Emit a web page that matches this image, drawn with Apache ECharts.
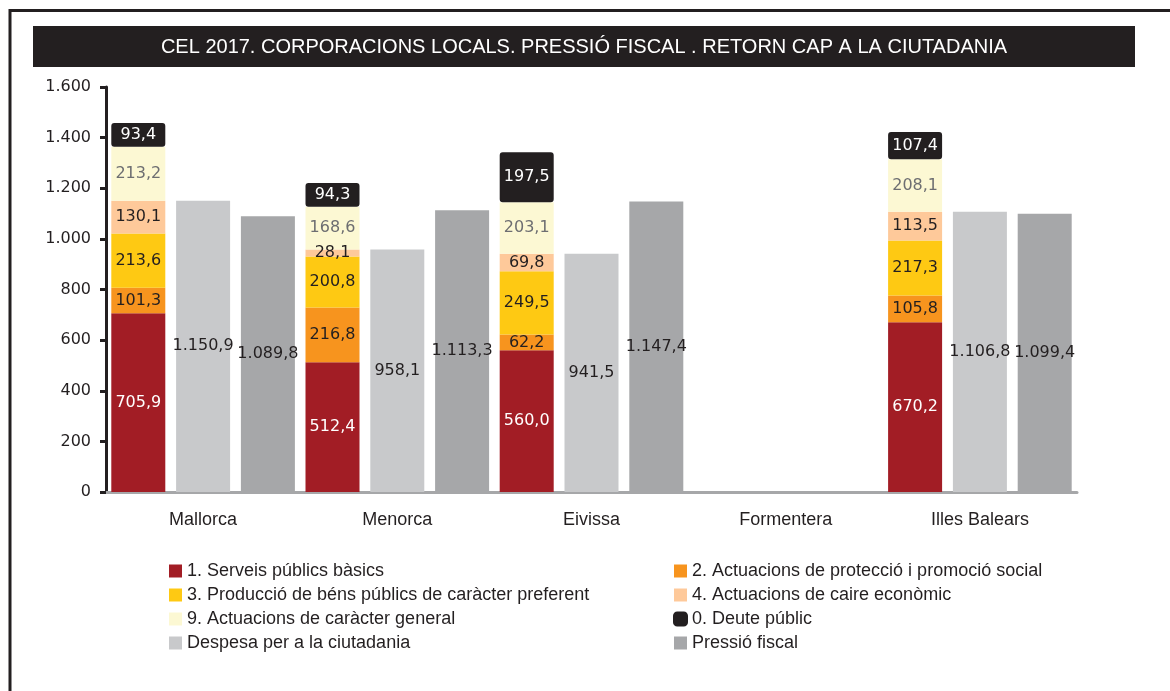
<!DOCTYPE html>
<html>
<head>
<meta charset="utf-8">
<script src="https://cdn.jsdelivr.net/npm/echarts@6/dist/echarts.min.js"></script>
<style>
  html, body { margin: 0; padding: 0; background: #fff; }
  #chart { width: 1170px; height: 691px; }
</style>
</head>
<body>
<div id="chart"></div>
<script>
const categories = ['Mallorca', 'Menorca', 'Eivissa', 'Formentera', 'Illes Balears']

// despesa per grups de programes (stack)
const serveisBasics = [705.9, 512.4, 560.0, null, 670.2]
const proteccioSocial = [101.3, 216.8, 62.2, null, 105.8]
const bensPreferents = [213.6, 200.8, 249.5, null, 217.3]
const caireEconomic = [130.1, 28.1, 69.8, null, 113.5]
const caracterGeneral = [213.2, 168.6, 203.1, null, 208.1]
const deutePublic = [93.4, 94.3, 197.5, null, 107.4]

const despesaCiutadania = [1150.9, 958.1, 941.5, null, 1106.8]
const pressioFiscal = [1089.8, 1113.3, 1147.4, null, 1099.4]

const yTicks = { min: 0, max: 1600, interval: 200 }

const fmt = (v) => {
  const parts = Number(v).toFixed(1).split('.')
  return parts[0].replace(/\B(?=(\d{3})+(?!\d))/g, '.') + ',' + parts[1]
}

const labelFont = 'DejaVu Sans'
const textFont = 'Liberation Sans'

const barLabel = (color) => ({
  show: true,
  position: 'inside',
  color,
  fontFamily: labelFont,
  fontSize: 16,
  formatter: (p) => fmt(p.value),
})

const stackSeries = (name, data, color, labelColor, extra) => Object.assign({
  name,
  type: 'bar',
  stack: 'despesa',
  barWidth: 54,
  barGap: '20%',
  data,
  itemStyle: { color },
  label: barLabel(labelColor),
}, extra || {})

const chart = echarts.init(document.getElementById('chart'))

const legendText = { color: '#231f20', fontFamily: textFont, fontSize: 18 }

const option = {
  animation: false,
  grid: { left: 106, right: 93, top: 87, bottom: 199 },
  graphic: [
    {
      type: 'rect',
      z: -1,
      shape: { x: 10, y: 10.5, width: 1200, height: 800 },
      style: { fill: 'none', stroke: '#231f20', lineWidth: 3 },
    },
    {
      type: 'rect',
      shape: { x: 33, y: 26, width: 1102, height: 41 },
      style: { fill: '#231f20' },
    },
    {
      type: 'text',
      x: 584,
      y: 47,
      style: {
        text: 'CEL 2017. CORPORACIONS LOCALS. PRESSIÓ FISCAL . RETORN CAP A LA CIUTADANIA',
        fill: '#fff',
        font: '20px "Liberation Sans"',
        align: 'center',
        verticalAlign: 'middle',
      },
    },
  ],
  legend: [
    {
      orient: 'vertical',
      left: 164,
      top: 557,
      itemWidth: 13,
      itemHeight: 13,
      itemGap: 6,
      textStyle: legendText,
      data: [
        { name: '1. Serveis públics bàsics', icon: 'rect' },
        { name: '3. Producció de béns públics de caràcter preferent', icon: 'rect' },
        { name: '9. Actuacions de caràcter general', icon: 'rect' },
        { name: 'Despesa per a la ciutadania', icon: 'rect' },
      ],
    },
    {
      orient: 'vertical',
      left: 668,
      top: 557,
      itemWidth: 13,
      itemHeight: 13,
      itemGap: 6,
      textStyle: legendText,
      data: [
        { name: '2. Actuacions de protecció i promoció social', icon: 'rect' },
        { name: '4. Actuacions de caire econòmic', icon: 'rect' },
        { name: '0. Deute públic', icon: 'roundRect' },
        { name: 'Pressió fiscal', icon: 'rect' },
      ],
    },
  ],
  xAxis: {
    type: 'category',
    data: categories,
    axisLine: { lineStyle: { color: '#a6a7a9', width: 3 } },
    axisTick: { show: false },
    axisLabel: { color: '#231f20', fontFamily: textFont, fontSize: 18, margin: 19 },
  },
  yAxis: {
    type: 'value',
    min: yTicks.min,
    max: yTicks.max,
    interval: yTicks.interval,
    axisLine: { show: true, lineStyle: { color: '#231f20', width: 3 } },
    axisTick: { show: true, length: 6, lineStyle: { color: '#231f20', width: 3 } },
    splitLine: { show: false },
    axisLabel: {
      color: '#231f20',
      fontFamily: labelFont,
      fontSize: 16,
      margin: 15,
      formatter: (v) => String(v).replace(/\B(?=(\d{3})+(?!\d))/g, '.'),
    },
  },
  series: [
    stackSeries('1. Serveis públics bàsics', serveisBasics, '#a21d25', '#fff'),
    stackSeries('2. Actuacions de protecció i promoció social', proteccioSocial, '#f7941e', '#231f20'),
    stackSeries('3. Producció de béns públics de caràcter preferent', bensPreferents, '#fec913', '#231f20'),
    stackSeries('4. Actuacions de caire econòmic', caireEconomic, '#fec99a', '#231f20'),
    stackSeries('9. Actuacions de caràcter general', caracterGeneral, '#fcf8d3', '#6d6e71'),
    stackSeries('0. Deute públic', deutePublic, '#231f20', '#fff', {
      itemStyle: { color: '#231f20', borderColor: '#231f20', borderWidth: 2, borderRadius: 2 },
    }),
    {
      name: 'Despesa per a la ciutadania',
      type: 'bar',
      barWidth: 54,
      barGap: '20%',
      data: despesaCiutadania,
      itemStyle: { color: '#c8c9cb' },
      label: barLabel('#231f20'),
    },
    {
      name: 'Pressió fiscal',
      type: 'bar',
      barWidth: 54,
      barGap: '20%',
      data: pressioFiscal,
      itemStyle: { color: '#a6a7a9' },
      label: barLabel('#231f20'),
    },
  ],
}

chart.setOption(option)
</script>
</body>
</html>
